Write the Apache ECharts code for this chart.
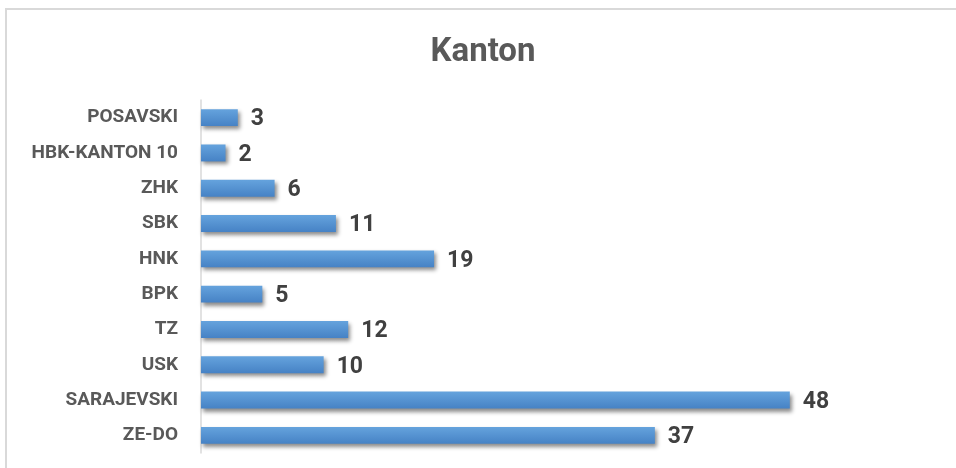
<!DOCTYPE html>
<html>
<head>
<meta charset="utf-8">
<script src="https://cdn.jsdelivr.net/npm/echarts@6/dist/echarts.min.js"></script>
<style>html,body{margin:0;padding:0;background:#fff;}#c{width:956px;height:468px;}</style>
</head>
<body>
<div id="c"></div>
<script>
const titleText = 'Kanton';
const categories = ['POSAVSKI','HBK-KANTON 10','ZHK','SBK','HNK','BPK','TZ','USK','SARAJEVSKI','ZE-DO'];
const values = [3,2,6,11,19,5,12,10,48,37];

const chart = echarts.init(document.getElementById('c'));
chart.setOption({
  animation: false,
  backgroundColor: '#ffffff',
  title: {
    text: titleText, left: 478, top: 31, textAlign: 'center',
    textStyle: { fontFamily: 'Roboto', fontWeight: 'bold', fontSize: 33, color: '#595959' }
  },
  graphic: [{
    type: 'rect', shape: { x: 6, y: 9, width: 960, height: 470 },
    style: { fill: 'none', stroke: '#d9d9d9', lineWidth: 2 }, silent: true
  }],
  grid: { left: 201, right: 19, top: 100, bottom: 15, containLabel: false },
  xAxis: {
    type: 'value', min: 0, max: 60, show: false
  },
  yAxis: {
    type: 'category', data: categories, inverse: true,
    axisLine: { show: true, lineStyle: { color: '#d9d9d9', width: 1.5 } },
    axisTick: { show: false },
    axisLabel: { margin: 23, fontFamily: 'Roboto', fontWeight: 'bold', fontSize: 19, color: '#595959' }
  },
  series: [{
    type: 'bar', data: values, barCategoryGap: '52%',
    itemStyle: {
      color: new echarts.graphic.LinearGradient(0, 0, 0, 1, [
        { offset: 0, color: '#65A3DD' },
        { offset: 1, color: '#4682C5' }
      ]),
      shadowColor: 'rgba(0,0,0,0.45)', shadowBlur: 4, shadowOffsetX: 2, shadowOffsetY: 3
    },
    label: {
      show: true, position: 'right', distance: 13, offset: [0, 2],
      fontFamily: 'Roboto', fontWeight: 'bold', fontSize: 23, color: '#404040'
    }
  }]
});
</script>
</body>
</html>
